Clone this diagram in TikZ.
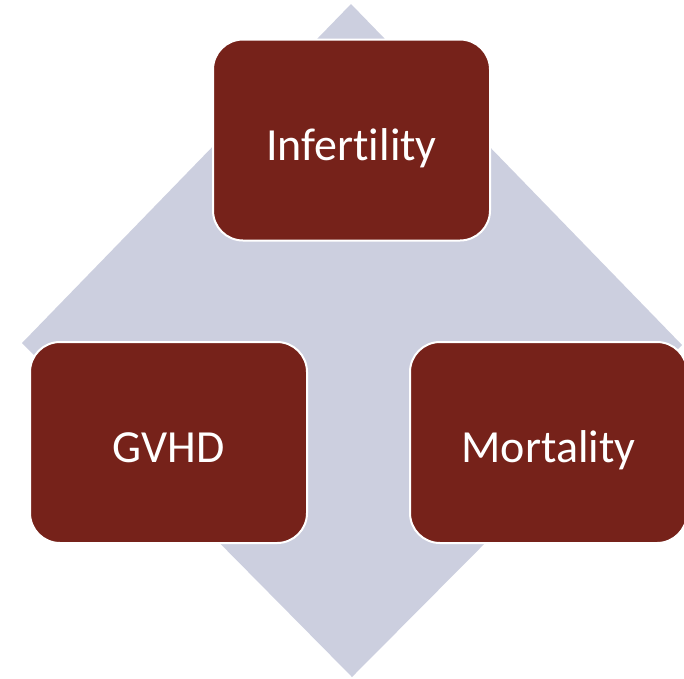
\documentclass[tikz,border=0pt]{standalone}
\usepackage{fontspec}
\setmainfont{Carlito}[Ligatures=NoCommon]
\usepackage{tikz}
\usetikzlibrary{positioning}
\definecolor{diamondgray}{RGB}{204,207,223}
\definecolor{boxred}{RGB}{118,34,26}
\tikzset{
	riskbox/.style={draw=white,line width=2pt,fill=boxred,rounded corners=30pt,
		minimum width=277pt,minimum height=201pt,text=white,
		text height=40pt,text depth=0pt,
		font=\fontsize{46}{54}\selectfont}
}

\begin{document}
\begin{tikzpicture}[x=1pt,y=-1pt]
				\useasboundingbox (0,0) rectangle (684,678);
				\clip (0,0) rectangle (684,678);
				\fill[diamondgray] (351,4) -- (682,345) -- (352,677) -- (22,343) -- cycle;
				\node[riskbox] (infert) at (351.5,140) {Infert\kern0pt ility};
				\node[riskbox] (gvhd) at (168.5,442.5) {GVHD};
				\node[riskbox] (mort) at (548.5,442.5) {Mortality};
	\end{tikzpicture}
\end{document}
